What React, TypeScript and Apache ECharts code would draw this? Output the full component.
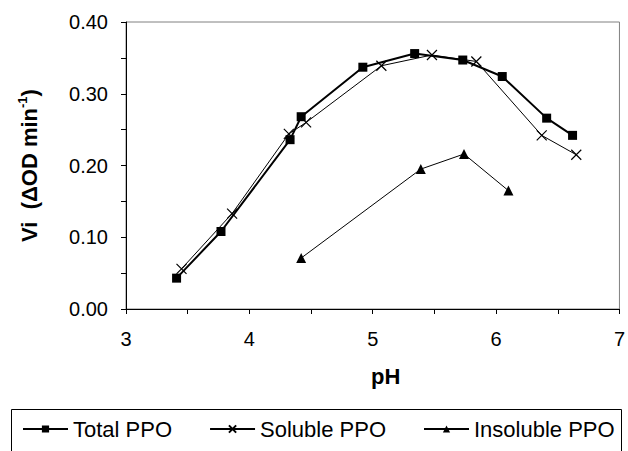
import React, { useEffect, useRef } from "react";
import * as echarts from "echarts";

const totalX = [3.41, 3.77, 4.33, 4.42, 4.92, 5.34, 5.73, 6.05, 6.41, 6.62];
const totalY = [0.043, 0.108, 0.236, 0.268, 0.337, 0.356, 0.347, 0.324, 0.266, 0.242];
const solubleX = [3.45, 3.86, 4.32, 4.46, 5.07, 5.48, 5.84, 6.37, 6.65];
const solubleY = [0.056, 0.133, 0.244, 0.26, 0.339, 0.354, 0.345, 0.242, 0.215];
const insolubleX = [4.42, 5.39, 5.74, 6.1];
const insolubleY = [0.071, 0.195, 0.216, 0.165];
const seriesNames = ["Total PPO", "Soluble PPO", "Insoluble PPO"];

const FONT = "'Liberation Sans', Arial, sans-serif";

const pairs = (xs: number[], ys: number[]) => xs.map((x, i) => [x, ys[i]]);

export default function App() {
  const ref = useRef<HTMLDivElement>(null);
  useEffect(() => {
    if (!ref.current) return;
    const chart = echarts.init(ref.current, null, { renderer: "svg" });
    chart.setOption({
      animation: false,
      backgroundColor: "#fff",
      textStyle: { fontFamily: FONT, color: "#000" },
      grid: {
        left: 126,
        right: 6,
        top: 22,
        bottom: 142,
        show: true,
        borderColor: "#808080",
        borderWidth: 1,
      },
      xAxis: {
        type: "value",
        min: 3,
        max: 7,
        interval: 1,
        name: "pH",
        nameLocation: "middle",
        nameGap: 56,
        nameTextStyle: {
          fontFamily: FONT,
          fontSize: 22,
          fontWeight: "bold",
          color: "#000",
          padding: [0, 0, 0, 26],
        },
        axisLine: { show: true, lineStyle: { color: "#000", width: 1 } },
        axisTick: { show: true, length: 5, lineStyle: { color: "#000" } },
        minorTick: { show: true, splitNumber: 2, length: 5, lineStyle: { color: "#000" } },
        splitLine: { show: false },
        axisLabel: { fontFamily: FONT, fontSize: 20, color: "#000", margin: 20 },
      },
      yAxis: {
        type: "value",
        min: 0,
        max: 0.4,
        interval: 0.1,
        name: "{a|Vi  (ΔOD min}{s|-1}{a|)}",
        nameLocation: "middle",
        nameGap: 84,
        nameTextStyle: {
          rich: {
            a: { fontFamily: FONT, fontSize: 22, fontWeight: "bold", color: "#000", lineHeight: 26 },
            s: { fontFamily: FONT, fontSize: 13, fontWeight: "bold", color: "#000", verticalAlign: "top", lineHeight: 13 },
          },
        },
        axisLine: { show: true, lineStyle: { color: "#000", width: 1 } },
        axisTick: { show: true, length: 5, lineStyle: { color: "#000" } },
        minorTick: { show: true, splitNumber: 2, length: 5, lineStyle: { color: "#000" } },
        splitLine: { show: false },
        axisLabel: {
          fontFamily: FONT,
          fontSize: 20,
          color: "#000",
          margin: 18,
          formatter: (v: number) => v.toFixed(2),
        },
      },
      legend: {
        data: seriesNames,
        left: 22,
        top: 418,
        padding: 0,
        itemGap: 37,
        itemWidth: 45,
        itemHeight: 9,
        textStyle: { fontFamily: FONT, fontSize: 22, color: "#000" },
      },
      graphic: [
        {
          type: "rect",
          shape: { x: 11.5, y: 409.5, width: 610, height: 60 },
          style: { fill: "none", stroke: "#000", lineWidth: 1 },
          silent: true,
        },
      ],
      series: [
        {
          name: seriesNames[0],
          type: "line",
          data: pairs(totalX, totalY),
          symbol: "rect",
          symbolSize: 9,
          lineStyle: { color: "#000", width: 2 },
          itemStyle: { color: "#000", borderColor: "#000", borderWidth: 0 },
          z: 3,
        },
        {
          name: seriesNames[1],
          type: "line",
          data: pairs(solubleX, solubleY),
          symbol: "path://M0,0L10,10M10,0L0,10",
          symbolSize: 10,
          lineStyle: { color: "#000", width: 1 },
          itemStyle: { color: "#000", borderColor: "#000", borderWidth: 1.2 },
          z: 2,
        },
        {
          name: seriesNames[2],
          type: "line",
          data: pairs(insolubleX, insolubleY),
          symbol: "triangle",
          symbolSize: 10,
          lineStyle: { color: "#000", width: 1 },
          itemStyle: { color: "#000", borderColor: "#000", borderWidth: 0 },
          z: 2,
        },
      ],
    });
    return () => chart.dispose();
  }, []);
  return (
    <div
      ref={ref}
      style={{ position: "absolute", left: 0, top: 0, width: 628, height: 451 }}
    />
  );
}
